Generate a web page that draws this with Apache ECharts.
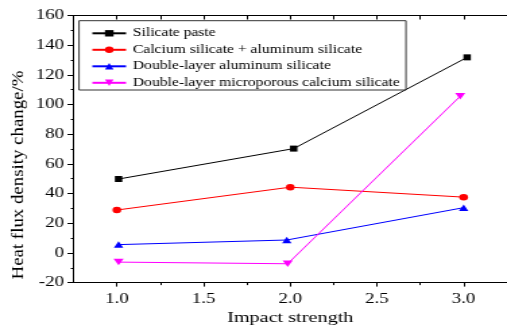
<!DOCTYPE html>
<html><head><meta charset="utf-8">
<script src="https://cdn.jsdelivr.net/npm/echarts@6/dist/echarts.min.js"></script>
<style>
html,body{margin:0;padding:0;overflow:hidden;background:#fff;width:507px;height:331px}
#c{width:376px;height:331px;transform:scaleX(1.3484);transform-origin:0 0}
</style>
</head><body><div id="c"></div>
<script>
// ---- data ----
const seriesNames = ['Silicate paste', 'Calcium silicate + aluminum silicate', 'Double-layer aluminum silicate', 'Double-layer microporous calcium silicate'];
const xSilicate = [1.01, 2.02, 3.02];
const ySilicate = [49.8, 70.3, 131.8];
const xCalcAlu = [1.0, 2.0, 3.0];
const yCalcAlu = [28.9, 44.3, 37.6];
const xDoubleAlu = [1.01, 1.98, 3.0];
const yDoubleAlu = [5.6, 8.7, 30.5];
const xDoubleMicro = [1.01, 1.985, 2.98];
const yDoubleMicro = [-6.2, -7.3, 105.6];
const xMajorTicks = [1.0, 1.5, 2.0, 2.5, 3.0];
const xMinorTicks = [1.25, 1.75, 2.25, 2.75, 3.25];
const xAxisTitle = 'Impact strength';
const yAxisTitle = 'Heat flux density change/%';

const FONT = "'Liberation Serif'";
const pairs = (xs, ys) => xs.map((x, i) => [x, ys[i]]);

const chart = echarts.init(document.getElementById('c'));
const xBase = {
  type: 'value', min: 0.75, max: 3.25, splitLine: {show: false},
  axisLine: {onZero: false, lineStyle: {color: '#000', width: 1}}
};
chart.setOption({
  animation: false,
  backgroundColor: '#fff',
  textStyle: {fontFamily: FONT},
  grid: {left: 54.5, right: -7.3, top: 15.5, bottom: 45.3, containLabel: false},
  legend: {
    orient: 'vertical', left: 58.6, top: 20.7,
    padding: [6.6, 4.6, 1.2, 8.9],
    itemWidth: 25, itemHeight: 8, itemGap: 4.5,
    borderColor: '#333', borderWidth: 1,
    textStyle: {fontFamily: FONT, fontSize: 11.6, color: '#000', lineHeight: 12},
    data: seriesNames
  },
  xAxis: [
    Object.assign({}, xBase, {
      position: 'bottom',
      name: xAxisTitle, nameLocation: 'middle', nameGap: 27,
      nameTextStyle: {fontFamily: FONT, fontSize: 15, color: '#000'},
      axisTick: {show: true, inside: false, length: 4, customValues: xMajorTicks, lineStyle: {color: '#000'}},
      axisLabel: {customValues: xMajorTicks, formatter: v => Number(v).toFixed(1), fontFamily: FONT, fontSize: 14, color: '#000', margin: 9.5}
    }),
    Object.assign({}, xBase, {
      position: 'bottom',
      axisLine: {show: false, onZero: false},
      axisTick: {show: true, inside: false, length: 2.5, customValues: xMinorTicks, lineStyle: {color: '#000'}},
      axisLabel: {show: false}
    }),
    Object.assign({}, xBase, {
      position: 'top', interval: 0.25,
      axisTick: {show: true, inside: true, length: 4, lineStyle: {color: '#000'}},
      axisLabel: {show: false}
    })
  ],
  yAxis: {
    type: 'value', min: -20, max: 160, interval: 20,
    splitLine: {show: false},
    axisLine: {show: true, onZero: false, lineStyle: {color: '#000', width: 1}},
    axisTick: {show: true, inside: false, length: 4.5, lineStyle: {color: '#000'}},
    minorTick: {show: true, splitNumber: 2, length: 2, lineStyle: {color: '#000'}},
    axisLabel: {fontFamily: FONT, fontSize: 14, color: '#000', margin: 7}
  },
  graphic: [{
    type: 'text', x: 13.7, y: 175, rotation: Math.PI / 2, scaleX: 1.45,
    style: {text: yAxisTitle, font: '13px ' + FONT, fill: '#000', align: 'center', verticalAlign: 'middle'}
  }],
  series: [
    {name: seriesNames[0], type: 'line', data: pairs(xSilicate, ySilicate), symbol: 'rect', symbolSize: [5.5, 6],
     itemStyle: {color: '#000'}, lineStyle: {color: '#000', width: 1}},
    {name: seriesNames[1], type: 'line', data: pairs(xCalcAlu, yCalcAlu), symbol: 'circle', symbolSize: 6.5,
     itemStyle: {color: '#ff0000'}, lineStyle: {color: '#ff0000', width: 1}},
    {name: seriesNames[2], type: 'line', data: pairs(xDoubleAlu, yDoubleAlu), symbol: 'triangle', symbolSize: [7, 6.5],
     itemStyle: {color: '#0000ff'}, lineStyle: {color: '#0000ff', width: 1}},
    {name: seriesNames[3], type: 'line', data: pairs(xDoubleMicro, yDoubleMicro), symbol: 'triangle', symbolRotate: 180, symbolSize: [7.5, 6.5],
     itemStyle: {color: '#ff00ff'}, lineStyle: {color: '#ff00ff', width: 1}}
  ]
});
</script></body></html>
